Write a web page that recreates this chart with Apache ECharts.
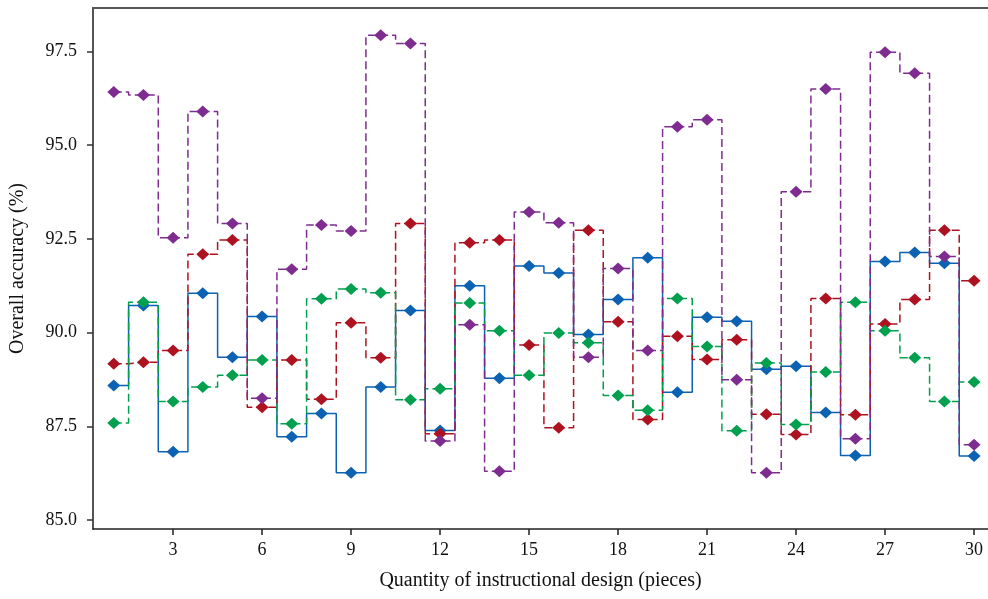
<!DOCTYPE html>
<html>
<head>
<meta charset="utf-8">
<script src="https://cdn.jsdelivr.net/npm/echarts@6/dist/echarts.min.js"></script>
<style>
  html, body { margin: 0; padding: 0; background: #fff; }
  #chart { width: 988px; height: 599px; }
</style>
</head>
<body>
<div id="chart"></div>
<script>
// data
const pieces = [1, 2, 3, 4, 5, 6, 7, 8, 9, 10, 11, 12, 13, 14, 15, 16, 17, 18, 19, 20, 21, 22, 23, 24, 25, 26, 27, 28, 29, 30]
const blueAcc = [88.59, 90.72, 86.82, 91.05, 89.34, 90.43, 87.22, 87.84, 86.26, 88.55, 90.59, 87.39, 91.25, 88.78, 91.78, 91.59, 89.95, 90.88, 92.00, 88.41, 90.41, 90.30, 89.02, 89.10, 87.87, 86.72, 91.90, 92.14, 91.85, 86.71]
const redAcc = [89.17, 89.21, 89.52, 92.09, 92.47, 88.01, 89.27, 88.22, 90.26, 89.33, 92.91, 87.30, 92.40, 92.47, 89.67, 87.46, 92.73, 90.29, 87.68, 89.90, 89.28, 89.81, 87.82, 87.28, 90.91, 87.81, 90.23, 90.88, 92.73, 91.38]
const greenAcc = [87.59, 90.81, 88.16, 88.55, 88.86, 89.27, 87.57, 90.90, 91.16, 91.06, 88.21, 88.50, 90.79, 90.05, 88.86, 89.99, 89.73, 88.32, 87.93, 90.91, 89.63, 87.38, 89.19, 87.55, 88.95, 90.81, 90.05, 89.33, 88.16, 88.68]
const purpleAcc = [96.42, 96.34, 92.53, 95.90, 92.91, 88.25, 91.69, 92.87, 92.71, 97.93, 97.71, 87.11, 90.21, 86.30, 93.22, 92.93, 89.34, 91.71, 89.52, 95.49, 95.68, 88.74, 86.26, 93.76, 96.50, 87.17, 97.48, 96.92, 92.03, 87.01]
const xTicks = [3, 6, 9, 12, 15, 18, 21, 24, 27, 30]
const yTicks = [85.0, 87.5, 90.0, 92.5, 95.0, 97.5]

const fontFam = '"Liberation Serif", "DejaVu Serif", serif'

function pairs(vals) {
  return pieces.map((p, i) => [p, vals[i]])
}

function stepSeries(name, vals, color, dashed, z) {
  return {
    name: name,
    type: 'line',
    step: 'middle',
    data: pairs(vals),
    symbol: 'diamond',
    symbolSize: [13, 12],
    z: z,
    itemStyle: { color: color },
    lineStyle: {
      color: color,
      width: 1.5,
      type: dashed ? [8, 4] : 'solid'
    },
    emphasis: { disabled: true }
  }
}

const chart = echarts.init(document.getElementById('chart'))
chart.setOption({
  animation: false,
  grid: { left: 93, right: 0, top: 8, bottom: 70 },
  xAxis: [
    {
      type: 'value',
      min: 0.3,
      max: 30.47,
      name: 'Quantity of instructional design (pieces)',
      nameLocation: 'middle',
      nameGap: 42,
      nameTextStyle: { fontFamily: fontFam, fontSize: 20, color: '#111' },
      splitLine: { show: false },
      axisLine: { lineStyle: { color: '#222', width: 1.5 } },
      axisTick: { customValues: xTicks, length: 6, lineStyle: { color: '#222', width: 1.5 } },
      axisLabel: {
        customValues: xTicks,
        margin: 12,
        fontFamily: fontFam,
        fontSize: 18,
        color: '#111'
      }
    },
    {
      type: 'value',
      position: 'top',
      min: 0.3,
      max: 30.47,
      axisLine: { show: true, lineStyle: { color: '#555', width: 2 } },
      axisTick: { show: false },
      axisLabel: { show: false },
      splitLine: { show: false }
    }
  ],
  yAxis: {
    type: 'value',
    min: 84.76,
    max: 98.66,
    name: 'Overall accuracy (%)',
    nameLocation: 'middle',
    nameGap: 65,
    nameTextStyle: { fontFamily: fontFam, fontSize: 20, color: '#111' },
    splitLine: { show: false },
    axisLine: { show: true, lineStyle: { color: '#555', width: 2 } },
    axisTick: { show: true, customValues: yTicks, length: 6, lineStyle: { color: '#333', width: 1.5 } },
    axisLabel: {
      customValues: yTicks,
      margin: 16,
      fontFamily: fontFam,
      fontSize: 18,
      color: '#111',
      formatter: v => v.toFixed(1)
    }
  },
  series: [
    stepSeries('blue', blueAcc, '#0B62B2', false, 2),
    stepSeries('red', redAcc, '#AE1220', true, 3),
    stepSeries('green', greenAcc, '#00A04E', true, 4),
    stepSeries('purple', purpleAcc, '#7E2C90', true, 5)
  ]
})
</script>
</body>
</html>
